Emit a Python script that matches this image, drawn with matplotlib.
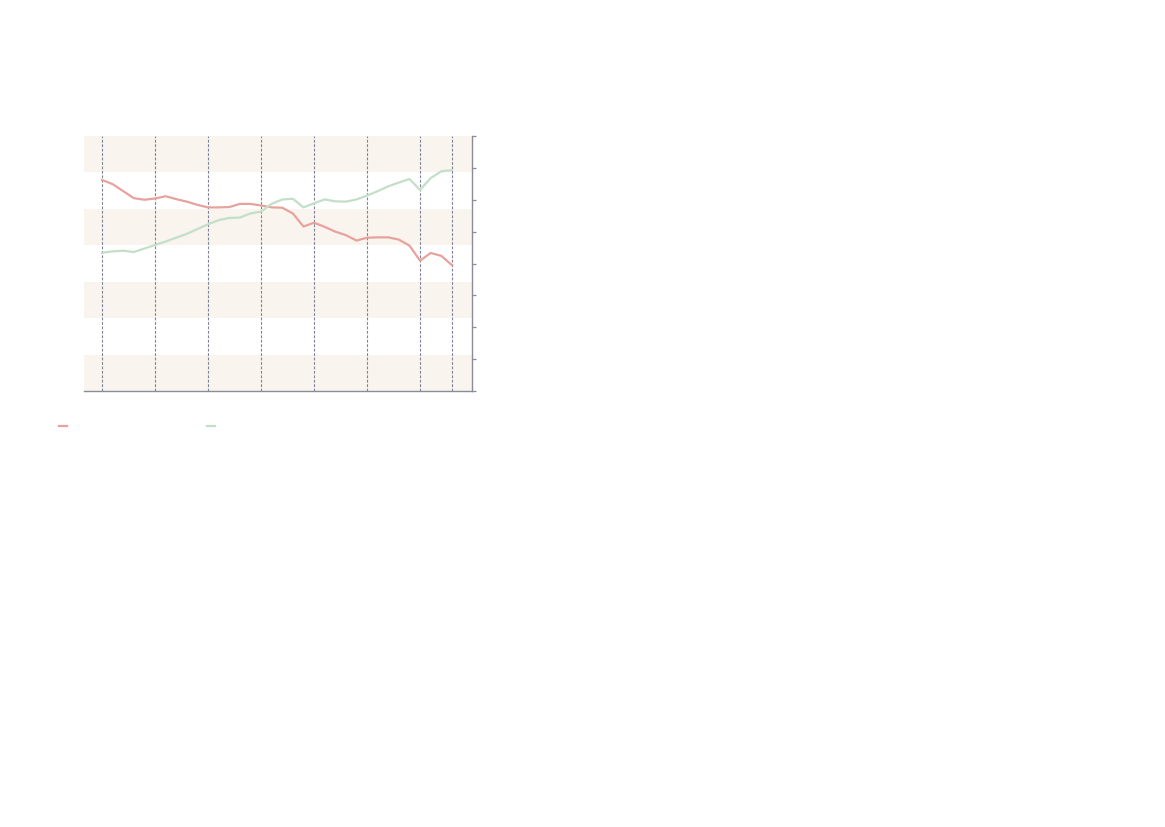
import matplotlib
matplotlib.use("Agg")
import matplotlib.pyplot as plt
from matplotlib.lines import Line2D

# yearly values
years = list(range(1990, 2024))
red_series = [66.2, 64.9, 62.7, 60.5, 60.0, 60.4, 61.1, 60.2, 59.4, 58.4,
              57.6, 57.6, 57.7, 58.7, 58.7, 58.2, 57.6, 57.5, 55.7, 51.6,
              52.8, 51.5, 50.0, 48.9, 47.2, 48.1, 48.2, 48.2, 47.5, 45.6,
              40.9, 43.3, 42.4, 39.5]
green_series = [43.4, 43.8, 44.0, 43.6, 44.7, 45.8, 46.9, 48.1, 49.3, 50.8,
                52.3, 53.6, 54.3, 54.4, 55.7, 56.3, 58.7, 60.1, 60.3, 57.6,
                58.9, 60.1, 59.5, 59.4, 60.1, 61.3, 62.7, 64.2, 65.4, 66.5,
                63.1, 66.8, 68.9, 69.3]
marker_years = [1990, 1995, 2000, 2005, 2010, 2015, 2020, 2023]
y_ticks = [0, 10, 20, 30, 40, 50, 60, 70, 80]

red = '#e8a29d'
green = '#c4dfc8'
band = '#f9f4ee'
axis_col = '#8a8c9c'
dash_col = '#7e8299'

fig = plt.figure(figsize=(11.65, 8.27), dpi=100)
ax = fig.add_axes([84 / 1165, 436 / 827, 387.5 / 1165, 255 / 827])

ymax = 80
n_bands = 7
h = ymax / n_bands
for k in range(0, n_bands, 2):
    ax.axhspan(k * h, (k + 1) * h, color=band, lw=0, zorder=0)

for yr in marker_years:
    ax.axvline(yr, color=dash_col, lw=0.8, ls=(0, (2.5, 1.5)), zorder=1)

ax.plot(years, red_series, color=red, lw=1.6, zorder=3)
ax.plot(years, green_series, color=green, lw=1.6, zorder=3)

ax.set_xlim(1988.3, 2024.85)
ax.set_ylim(0, ymax)
ax.set_xticks([])
ax.set_yticks(y_ticks)
ax.yaxis.tick_right()
ax.tick_params(axis='y', length=3, width=0.9, color=axis_col, labelright=False)

for side in ['left', 'top']:
    ax.spines[side].set_visible(False)
for side in ['right', 'bottom']:
    ax.spines[side].set_color(axis_col)
    ax.spines[side].set_linewidth(1.0)

# legend swatches (labels are blank in the reference)
fig.add_artist(Line2D([59 / 1165, 67 / 1165], [1 - 426 / 827] * 2,
                      color=red, lw=1.6))
fig.add_artist(Line2D([207 / 1165, 215 / 1165], [1 - 426 / 827] * 2,
                      color=green, lw=1.6))

fig.savefig('out.png', dpi=100, facecolor='white')
